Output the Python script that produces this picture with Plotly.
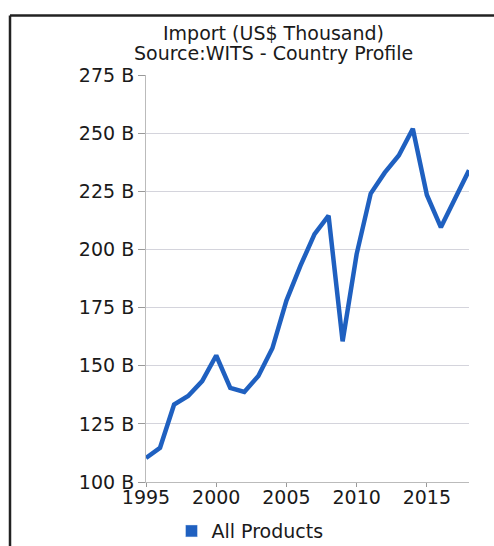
import plotly.graph_objects as go

years = list(range(1995, 2019))
imports_b = [110.3, 114.7, 133.3, 137.0, 143.4, 154.4, 140.5, 138.7, 145.6, 157.5,
             178.0, 193.0, 206.6, 214.5, 160.5, 198.0, 224.0, 233.0, 240.4, 251.9,
             223.4, 209.5, 221.8, 234.0]
series_name = "All Products"
title_lines = ["Import (US$ Thousand)", "Source:WITS - Country Profile"]
y_ticks = [100, 125, 150, 175, 200, 225, 250, 275]
y_tick_text = [f"{v} B" for v in y_ticks]
x_ticks = [1995, 2000, 2005, 2010, 2015]

# the captured page is slightly taller than the picture; compensate vertically
K = 562 / 546
W, H = 494, 562
L, R = 146, 469
T, B = 72.5 * K, 479 * K
color = "#1f60c0"
font = "DejaVu Sans"
FS = 19

def px_x(p):
    return (p - L) / (R - L)

def px_y(p):
    return (B - p * K) / (B - T)

fig = go.Figure()
fig.add_trace(go.Scatter(x=years, y=imports_b, mode="lines",
                         line=dict(color=color, width=4.5),
                         showlegend=False, name=series_name))
# legend proxy (square swatch)
fig.add_trace(go.Bar(x=[None], y=[None], marker_color=color, name=series_name,
                     showlegend=True))

fig.update_layout(
    width=W, height=H,
    margin=dict(l=L, r=W - R, t=T, b=H - B, pad=0),
    paper_bgcolor="white", plot_bgcolor="white",
    font=dict(family=font, size=FS, color="#1a1a1a"),
    showlegend=True,
    legend=dict(orientation="h", x=px_x(250), y=px_y(528), xanchor="center",
                yanchor="middle", font=dict(size=FS, family=font, color="#1a1a1a"),
                bgcolor="rgba(0,0,0,0)"),
    xaxis=dict(range=[1995, 2018], tickvals=x_ticks, showgrid=False,
               showline=True, linecolor="#bbbbbb", linewidth=1,
               ticks="outside", ticklen=4, tickcolor="#999999",
               ticklabelstandoff=-6,
               tickfont=dict(size=FS, family=font, color="#1a1a1a"), zeroline=False),
    yaxis=dict(range=[100, 275], tickvals=y_ticks, ticktext=y_tick_text,
               showgrid=True, gridcolor="#d4d4dc", gridwidth=1,
               showline=True, linecolor="#bbbbbb", linewidth=1,
               ticks="outside", ticklen=7, tickcolor="#999999",
               tickfont=dict(size=FS, family=font, color="#1a1a1a"), zeroline=False),
)

for txt, py in zip(title_lines, [31, 51]):
    fig.add_annotation(text=txt, xref="paper", yref="paper", x=px_x(273), y=px_y(py),
                       xanchor="center", yanchor="middle", showarrow=False,
                       font=dict(size=FS, family=font, color="#1a1a1a"))

# outer frame (top and left edges)
fig.add_shape(type="line", xref="paper", yref="paper", x0=px_x(10), x1=px_x(W),
              y0=px_y(13), y1=px_y(13), line=dict(color="#222222", width=2.5))
fig.add_shape(type="line", xref="paper", yref="paper", x0=px_x(10), x1=px_x(10),
              y0=px_y(13), y1=px_y(546), line=dict(color="#222222", width=2.5))

fig.write_html("out.html", config={"displayModeBar": False},
               post_script="document.body.style.margin='0';document.body.style.overflow='hidden';")
